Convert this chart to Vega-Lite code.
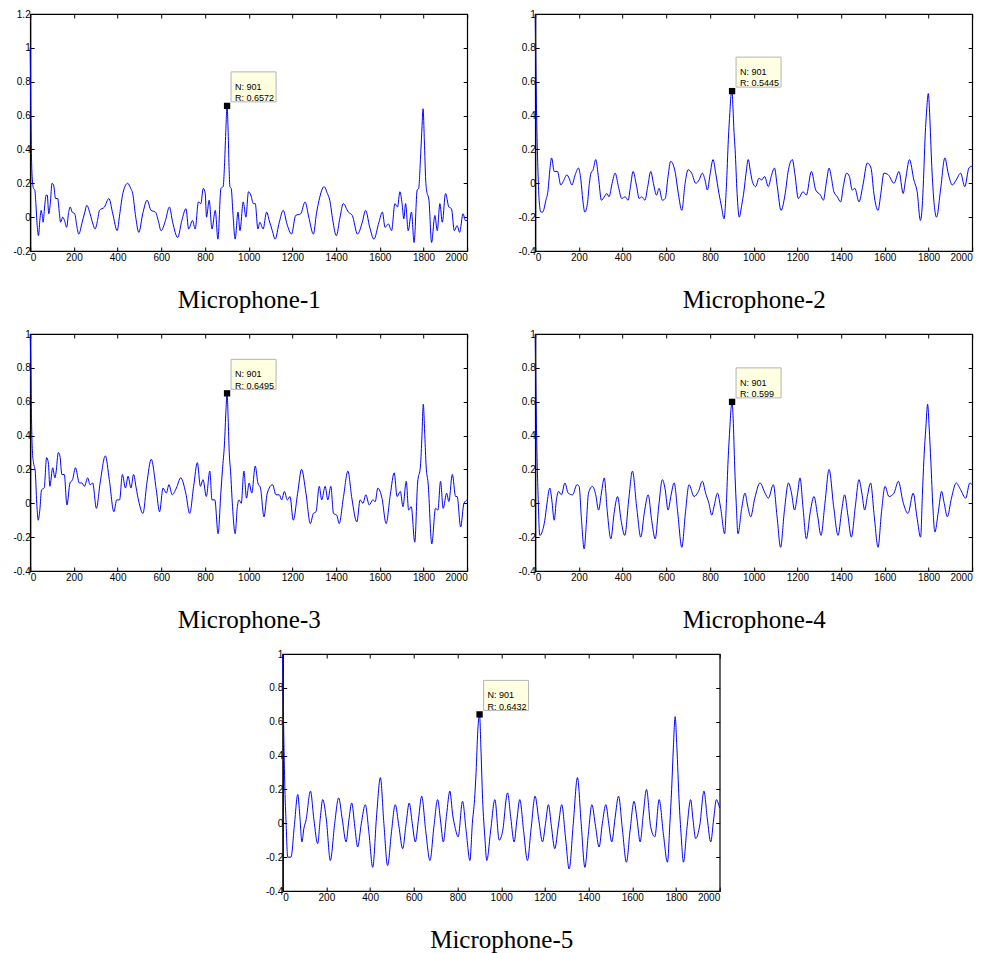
{
"$schema": "https://vega.github.io/schema/vega-lite/v6.json",
"background": "white",
"padding": {"left": 12, "top": 8, "right": 5, "bottom": 5},
"config": {
  "view": {"stroke": "#000", "strokeWidth": 1.2},
  "axis": {"grid": false, "labelFont": "Liberation Sans", "labelFontSize": 10, "labelColor": "#000", "tickColor": "#000", "domainColor": "#000", "domainWidth": 1.2, "tickWidth": 1, "tickSize": -4}
},
"datasets": {
"s1": [{"n":0,"r":1.0},{"n":3,"r":0.6},{"n":6,"r":0.35},{"n":10,"r":0.22},{"n":15,"r":0.17},{"n":21,"r":0.16},{"n":26,"r":0.08},{"n":32,"r":-0.05},{"n":38,"r":-0.11},{"n":44,"r":-0.02},{"n":50,"r":0.04},{"n":55,"r":0.01},{"n":59,"r":-0.03},{"n":66,"r":0.06},{"n":73,"r":0.13},{"n":78,"r":0.13},{"n":85,"r":0.02},{"n":92,"r":0.08},{"n":100,"r":0.2},{"n":107,"r":0.19},{"n":116,"r":0.11},{"n":126,"r":0.11},{"n":133,"r":0.03},{"n":139,"r":-0.03},{"n":149,"r":0.0},{"n":157,"r":-0.02},{"n":167,"r":-0.06},{"n":175,"r":0.02},{"n":183,"r":0.06},{"n":192,"r":0.03},{"n":204,"r":0.02},{"n":213,"r":-0.05},{"n":222,"r":-0.1},{"n":238,"r":-0.03},{"n":250,"r":0.03},{"n":259,"r":0.07},{"n":274,"r":0.02},{"n":287,"r":-0.04},{"n":297,"r":-0.07},{"n":308,"r":-0.02},{"n":317,"r":0.04},{"n":340,"r":0.06},{"n":360,"r":0.11},{"n":378,"r":0.02},{"n":398,"r":-0.08},{"n":410,"r":0.02},{"n":424,"r":0.14},{"n":446,"r":0.2},{"n":460,"r":0.17},{"n":469,"r":0.14},{"n":483,"r":0.0},{"n":497,"r":-0.09},{"n":515,"r":0.02},{"n":535,"r":0.1},{"n":553,"r":0.04},{"n":573,"r":0.03},{"n":586,"r":-0.02},{"n":599,"r":-0.08},{"n":619,"r":-0.02},{"n":637,"r":0.06},{"n":652,"r":-0.03},{"n":675,"r":-0.12},{"n":694,"r":-0.02},{"n":713,"r":0.05},{"n":725,"r":-0.07},{"n":743,"r":-0.02},{"n":755,"r":-0.07},{"n":770,"r":0.09},{"n":781,"r":0.08},{"n":792,"r":0.17},{"n":801,"r":0.14},{"n":807,"r":0.0},{"n":819,"r":0.1},{"n":832,"r":-0.07},{"n":847,"r":0.04},{"n":859,"r":-0.13},{"n":873,"r":0.17},{"n":883,"r":0.18},{"n":889,"r":0.3},{"n":895,"r":0.5},{"n":901,"r":0.6572},{"n":906,"r":0.5},{"n":910,"r":0.3},{"n":914,"r":0.18},{"n":920,"r":0.17},{"n":928,"r":0.02},{"n":938,"r":-0.13},{"n":951,"r":0.03},{"n":960,"r":-0.08},{"n":975,"r":0.09},{"n":987,"r":0.0},{"n":999,"r":0.15},{"n":1010,"r":0.13},{"n":1021,"r":0.08},{"n":1030,"r":0.08},{"n":1042,"r":-0.07},{"n":1051,"r":-0.03},{"n":1066,"r":-0.07},{"n":1082,"r":0.03},{"n":1094,"r":-0.02},{"n":1108,"r":-0.08},{"n":1121,"r":-0.13},{"n":1140,"r":-0.03},{"n":1158,"r":0.04},{"n":1175,"r":-0.04},{"n":1196,"r":-0.1},{"n":1215,"r":0.01},{"n":1238,"r":0.02},{"n":1258,"r":0.09},{"n":1275,"r":0.0},{"n":1296,"r":-0.1},{"n":1310,"r":0.02},{"n":1322,"r":0.1},{"n":1345,"r":0.18},{"n":1360,"r":0.14},{"n":1371,"r":0.1},{"n":1385,"r":-0.02},{"n":1401,"r":-0.11},{"n":1418,"r":0.0},{"n":1433,"r":0.08},{"n":1456,"r":0.03},{"n":1474,"r":0.01},{"n":1498,"r":-0.1},{"n":1520,"r":-0.03},{"n":1535,"r":0.04},{"n":1554,"r":-0.06},{"n":1573,"r":-0.13},{"n":1596,"r":-0.03},{"n":1612,"r":0.03},{"n":1624,"r":-0.06},{"n":1639,"r":-0.04},{"n":1654,"r":-0.08},{"n":1669,"r":0.08},{"n":1681,"r":0.06},{"n":1692,"r":0.15},{"n":1702,"r":0.08},{"n":1710,"r":-0.01},{"n":1718,"r":0.08},{"n":1730,"r":-0.08},{"n":1745,"r":0.03},{"n":1757,"r":-0.15},{"n":1771,"r":0.16},{"n":1778,"r":0.17},{"n":1786,"r":0.34},{"n":1792,"r":0.5},{"n":1798,"r":0.64},{"n":1804,"r":0.45},{"n":1810,"r":0.22},{"n":1814,"r":0.16},{"n":1825,"r":0.1},{"n":1837,"r":-0.15},{"n":1852,"r":0.01},{"n":1863,"r":-0.08},{"n":1875,"r":0.08},{"n":1886,"r":-0.03},{"n":1901,"r":0.14},{"n":1916,"r":0.06},{"n":1928,"r":0.05},{"n":1941,"r":-0.08},{"n":1954,"r":-0.05},{"n":1965,"r":-0.09},{"n":1981,"r":0.02},{"n":1992,"r":-0.02},{"n":2000,"r":-0.02}],
"s2": [{"n":0,"r":1.0},{"n":4,"r":0.6},{"n":8,"r":0.3},{"n":12,"r":0.1},{"n":18,"r":-0.1},{"n":26,"r":-0.17},{"n":34,"r":-0.17},{"n":49,"r":-0.1},{"n":59,"r":-0.04},{"n":67,"r":0.08},{"n":75,"r":0.15},{"n":87,"r":0.07},{"n":102,"r":0.07},{"n":117,"r":-0.01},{"n":128,"r":0.01},{"n":145,"r":0.05},{"n":155,"r":0.03},{"n":168,"r":-0.01},{"n":183,"r":0.05},{"n":198,"r":0.09},{"n":209,"r":0.02},{"n":218,"r":-0.1},{"n":227,"r":-0.17},{"n":239,"r":-0.12},{"n":248,"r":0.0},{"n":255,"r":0.06},{"n":265,"r":0.08},{"n":277,"r":0.14},{"n":290,"r":0.03},{"n":303,"r":-0.1},{"n":316,"r":-0.08},{"n":328,"r":-0.06},{"n":338,"r":-0.08},{"n":352,"r":0.0},{"n":366,"r":0.06},{"n":381,"r":-0.02},{"n":396,"r":-0.09},{"n":412,"r":-0.08},{"n":425,"r":-0.1},{"n":436,"r":-0.02},{"n":448,"r":0.07},{"n":463,"r":-0.01},{"n":476,"r":-0.09},{"n":488,"r":-0.08},{"n":502,"r":-0.1},{"n":515,"r":-0.02},{"n":529,"r":0.07},{"n":541,"r":0.0},{"n":555,"r":-0.07},{"n":567,"r":-0.03},{"n":582,"r":-0.1},{"n":595,"r":-0.09},{"n":608,"r":0.04},{"n":620,"r":0.13},{"n":640,"r":0.07},{"n":655,"r":-0.06},{"n":671,"r":-0.16},{"n":686,"r":0.0},{"n":700,"r":0.08},{"n":716,"r":0.06},{"n":735,"r":0.0},{"n":750,"r":0.02},{"n":765,"r":0.06},{"n":777,"r":0.02},{"n":788,"r":-0.04},{"n":800,"r":0.05},{"n":814,"r":0.14},{"n":826,"r":0.06},{"n":841,"r":-0.06},{"n":853,"r":-0.14},{"n":864,"r":-0.21},{"n":875,"r":-0.02},{"n":884,"r":0.26},{"n":891,"r":0.42},{"n":897,"r":0.53},{"n":901,"r":0.5445},{"n":905,"r":0.45},{"n":910,"r":0.3},{"n":915,"r":0.2},{"n":924,"r":-0.06},{"n":934,"r":-0.2},{"n":945,"r":-0.13},{"n":956,"r":-0.04},{"n":965,"r":0.06},{"n":975,"r":0.14},{"n":985,"r":0.07},{"n":994,"r":0.01},{"n":1009,"r":-0.02},{"n":1024,"r":0.03},{"n":1037,"r":0.02},{"n":1050,"r":0.04},{"n":1067,"r":-0.02},{"n":1080,"r":0.04},{"n":1095,"r":0.09},{"n":1108,"r":-0.02},{"n":1125,"r":-0.16},{"n":1143,"r":-0.07},{"n":1159,"r":0.08},{"n":1177,"r":0.14},{"n":1189,"r":0.05},{"n":1204,"r":-0.09},{"n":1226,"r":-0.05},{"n":1241,"r":-0.07},{"n":1264,"r":0.07},{"n":1284,"r":-0.04},{"n":1306,"r":-0.07},{"n":1319,"r":-0.1},{"n":1332,"r":0.0},{"n":1345,"r":0.09},{"n":1356,"r":0.03},{"n":1367,"r":-0.05},{"n":1383,"r":-0.08},{"n":1398,"r":-0.11},{"n":1410,"r":-0.02},{"n":1425,"r":0.06},{"n":1438,"r":0.04},{"n":1451,"r":-0.04},{"n":1463,"r":-0.03},{"n":1482,"r":-0.11},{"n":1500,"r":-0.01},{"n":1520,"r":0.12},{"n":1537,"r":0.09},{"n":1550,"r":-0.06},{"n":1569,"r":-0.16},{"n":1582,"r":-0.06},{"n":1596,"r":0.06},{"n":1616,"r":0.05},{"n":1642,"r":0.0},{"n":1665,"r":0.07},{"n":1684,"r":-0.06},{"n":1695,"r":0.02},{"n":1713,"r":0.14},{"n":1733,"r":0.02},{"n":1748,"r":-0.05},{"n":1763,"r":-0.22},{"n":1771,"r":-0.14},{"n":1778,"r":0.05},{"n":1784,"r":0.26},{"n":1791,"r":0.42},{"n":1799,"r":0.53},{"n":1805,"r":0.42},{"n":1810,"r":0.26},{"n":1815,"r":0.1},{"n":1820,"r":-0.02},{"n":1837,"r":-0.2},{"n":1855,"r":-0.04},{"n":1875,"r":0.15},{"n":1890,"r":0.06},{"n":1909,"r":-0.01},{"n":1927,"r":0.02},{"n":1947,"r":0.06},{"n":1966,"r":-0.02},{"n":1985,"r":0.09},{"n":1997,"r":0.1},{"n":2000,"r":0.1}],
"s3": [{"n":0,"r":1.0},{"n":3,"r":0.8},{"n":6,"r":0.5},{"n":10,"r":0.31},{"n":15,"r":0.24},{"n":23,"r":0.19},{"n":30,"r":0.0},{"n":37,"r":-0.1},{"n":44,"r":-0.04},{"n":52,"r":0.08},{"n":64,"r":0.09},{"n":75,"r":0.27},{"n":83,"r":0.24},{"n":90,"r":0.1},{"n":103,"r":0.21},{"n":113,"r":0.15},{"n":118,"r":0.18},{"n":129,"r":0.3},{"n":136,"r":0.28},{"n":145,"r":0.17},{"n":156,"r":0.17},{"n":168,"r":-0.01},{"n":182,"r":0.12},{"n":194,"r":0.14},{"n":207,"r":0.21},{"n":225,"r":0.12},{"n":237,"r":0.12},{"n":248,"r":0.1},{"n":263,"r":0.15},{"n":274,"r":0.11},{"n":286,"r":0.12},{"n":303,"r":-0.03},{"n":320,"r":0.12},{"n":344,"r":0.28},{"n":362,"r":0.14},{"n":383,"r":-0.05},{"n":396,"r":0.02},{"n":409,"r":0.02},{"n":422,"r":0.17},{"n":436,"r":0.09},{"n":448,"r":0.16},{"n":461,"r":0.09},{"n":473,"r":0.17},{"n":485,"r":0.09},{"n":497,"r":0.01},{"n":516,"r":-0.06},{"n":534,"r":0.12},{"n":554,"r":0.26},{"n":577,"r":0.08},{"n":592,"r":-0.05},{"n":608,"r":0.09},{"n":623,"r":0.06},{"n":635,"r":0.11},{"n":650,"r":0.05},{"n":669,"r":0.09},{"n":689,"r":0.15},{"n":712,"r":0.06},{"n":730,"r":-0.06},{"n":748,"r":0.1},{"n":765,"r":0.24},{"n":779,"r":0.1},{"n":791,"r":0.14},{"n":806,"r":0.04},{"n":822,"r":0.19},{"n":832,"r":0.02},{"n":845,"r":0.02},{"n":860,"r":-0.18},{"n":872,"r":0.05},{"n":880,"r":0.2},{"n":889,"r":0.35},{"n":896,"r":0.55},{"n":901,"r":0.6495},{"n":906,"r":0.5},{"n":911,"r":0.3},{"n":917,"r":0.19},{"n":926,"r":-0.02},{"n":938,"r":-0.18},{"n":948,"r":-0.02},{"n":956,"r":0.02},{"n":966,"r":0.0},{"n":978,"r":0.19},{"n":990,"r":0.03},{"n":1002,"r":0.12},{"n":1014,"r":0.06},{"n":1030,"r":0.22},{"n":1042,"r":0.12},{"n":1054,"r":0.09},{"n":1070,"r":-0.08},{"n":1085,"r":0.06},{"n":1109,"r":0.11},{"n":1125,"r":0.05},{"n":1140,"r":0.05},{"n":1151,"r":0.02},{"n":1163,"r":0.07},{"n":1177,"r":0.02},{"n":1189,"r":0.04},{"n":1204,"r":-0.1},{"n":1224,"r":0.06},{"n":1242,"r":0.2},{"n":1262,"r":0.06},{"n":1282,"r":-0.12},{"n":1296,"r":-0.06},{"n":1308,"r":-0.05},{"n":1323,"r":0.1},{"n":1334,"r":0.02},{"n":1350,"r":0.1},{"n":1362,"r":0.02},{"n":1376,"r":0.1},{"n":1388,"r":-0.06},{"n":1403,"r":-0.07},{"n":1414,"r":-0.12},{"n":1434,"r":0.04},{"n":1454,"r":0.19},{"n":1472,"r":0.03},{"n":1495,"r":-0.11},{"n":1510,"r":0.02},{"n":1523,"r":0.0},{"n":1536,"r":0.05},{"n":1552,"r":-0.01},{"n":1568,"r":0.02},{"n":1579,"r":0.01},{"n":1591,"r":0.09},{"n":1610,"r":0.03},{"n":1629,"r":-0.12},{"n":1648,"r":0.05},{"n":1666,"r":0.18},{"n":1679,"r":0.04},{"n":1694,"r":0.07},{"n":1706,"r":-0.02},{"n":1721,"r":0.13},{"n":1732,"r":-0.04},{"n":1744,"r":-0.02},{"n":1760,"r":-0.23},{"n":1773,"r":0.12},{"n":1786,"r":0.22},{"n":1793,"r":0.4},{"n":1799,"r":0.585},{"n":1806,"r":0.4},{"n":1812,"r":0.22},{"n":1821,"r":0.12},{"n":1838,"r":-0.24},{"n":1855,"r":-0.03},{"n":1866,"r":-0.04},{"n":1878,"r":0.13},{"n":1890,"r":-0.03},{"n":1906,"r":0.06},{"n":1916,"r":0.01},{"n":1932,"r":0.17},{"n":1947,"r":0.04},{"n":1954,"r":0.04},{"n":1970,"r":-0.14},{"n":1985,"r":0.0},{"n":2000,"r":0.02}],
"s4": [{"n":0,"r":1.0},{"n":4,"r":0.6},{"n":8,"r":0.3},{"n":12,"r":0.1},{"n":21,"r":-0.19},{"n":34,"r":-0.16},{"n":44,"r":-0.1},{"n":53,"r":-0.01},{"n":67,"r":0.09},{"n":76,"r":0.02},{"n":87,"r":-0.1},{"n":97,"r":0.02},{"n":107,"r":0.07},{"n":120,"r":0.05},{"n":136,"r":0.12},{"n":151,"r":0.06},{"n":171,"r":0.05},{"n":191,"r":0.11},{"n":201,"r":0.1},{"n":212,"r":-0.1},{"n":224,"r":-0.27},{"n":234,"r":-0.12},{"n":244,"r":0.06},{"n":262,"r":0.1},{"n":277,"r":0.05},{"n":290,"r":-0.04},{"n":303,"r":0.06},{"n":316,"r":0.15},{"n":330,"r":-0.05},{"n":346,"r":-0.21},{"n":362,"r":-0.05},{"n":377,"r":0.04},{"n":393,"r":-0.1},{"n":410,"r":-0.19},{"n":428,"r":0.02},{"n":445,"r":0.19},{"n":465,"r":-0.03},{"n":483,"r":-0.2},{"n":500,"r":-0.05},{"n":517,"r":0.05},{"n":533,"r":-0.1},{"n":549,"r":-0.21},{"n":566,"r":-0.01},{"n":582,"r":0.14},{"n":595,"r":0.08},{"n":608,"r":-0.04},{"n":622,"r":0.05},{"n":636,"r":0.12},{"n":652,"r":-0.05},{"n":671,"r":-0.26},{"n":688,"r":-0.05},{"n":704,"r":0.11},{"n":727,"r":0.04},{"n":747,"r":0.07},{"n":765,"r":0.13},{"n":780,"r":0.06},{"n":795,"r":0.0},{"n":808,"r":-0.07},{"n":820,"r":-0.01},{"n":834,"r":0.06},{"n":849,"r":-0.03},{"n":867,"r":-0.18},{"n":875,"r":0.0},{"n":883,"r":0.26},{"n":891,"r":0.45},{"n":897,"r":0.57},{"n":901,"r":0.599},{"n":906,"r":0.5},{"n":913,"r":0.22},{"n":920,"r":0.0},{"n":928,"r":-0.18},{"n":945,"r":-0.03},{"n":960,"r":0.06},{"n":973,"r":-0.02},{"n":986,"r":-0.08},{"n":1005,"r":0.03},{"n":1029,"r":0.12},{"n":1052,"r":0.06},{"n":1067,"r":0.03},{"n":1090,"r":0.11},{"n":1107,"r":-0.08},{"n":1123,"r":-0.26},{"n":1140,"r":-0.05},{"n":1159,"r":0.12},{"n":1173,"r":0.06},{"n":1187,"r":-0.04},{"n":1200,"r":0.05},{"n":1212,"r":0.15},{"n":1226,"r":-0.03},{"n":1241,"r":-0.21},{"n":1259,"r":-0.05},{"n":1276,"r":0.04},{"n":1292,"r":-0.07},{"n":1308,"r":-0.19},{"n":1326,"r":0.0},{"n":1345,"r":0.2},{"n":1366,"r":-0.02},{"n":1386,"r":-0.19},{"n":1402,"r":-0.05},{"n":1416,"r":0.05},{"n":1431,"r":-0.07},{"n":1447,"r":-0.2},{"n":1465,"r":-0.02},{"n":1482,"r":0.14},{"n":1495,"r":0.06},{"n":1508,"r":-0.04},{"n":1520,"r":0.04},{"n":1535,"r":0.12},{"n":1552,"r":-0.08},{"n":1569,"r":-0.26},{"n":1585,"r":-0.05},{"n":1601,"r":0.1},{"n":1619,"r":0.04},{"n":1642,"r":0.06},{"n":1662,"r":0.13},{"n":1683,"r":0.01},{"n":1706,"r":-0.06},{"n":1730,"r":0.06},{"n":1747,"r":-0.08},{"n":1764,"r":-0.2},{"n":1772,"r":0.05},{"n":1779,"r":0.26},{"n":1788,"r":0.45},{"n":1796,"r":0.585},{"n":1803,"r":0.45},{"n":1811,"r":0.24},{"n":1820,"r":-0.02},{"n":1829,"r":-0.17},{"n":1845,"r":-0.05},{"n":1860,"r":0.07},{"n":1872,"r":0.0},{"n":1886,"r":-0.08},{"n":1905,"r":0.03},{"n":1927,"r":0.12},{"n":1947,"r":0.08},{"n":1970,"r":0.03},{"n":1989,"r":0.12},{"n":2000,"r":0.11}],
"s5": [{"n":0,"r":1.0},{"n":4,"r":0.6},{"n":10,"r":0.2},{"n":15,"r":0.02},{"n":23,"r":-0.2},{"n":38,"r":-0.2},{"n":53,"r":-0.02},{"n":69,"r":0.17},{"n":78,"r":0.05},{"n":88,"r":-0.11},{"n":97,"r":-0.03},{"n":107,"r":0.02},{"n":127,"r":0.19},{"n":143,"r":0.02},{"n":160,"r":-0.12},{"n":172,"r":0.03},{"n":183,"r":0.14},{"n":200,"r":0.02},{"n":218,"r":-0.22},{"n":238,"r":0.0},{"n":256,"r":0.15},{"n":273,"r":0.02},{"n":290,"r":-0.11},{"n":303,"r":0.02},{"n":316,"r":0.12},{"n":330,"r":-0.02},{"n":343,"r":-0.14},{"n":360,"r":0.0},{"n":378,"r":0.11},{"n":395,"r":-0.06},{"n":412,"r":-0.26},{"n":430,"r":0.05},{"n":447,"r":0.27},{"n":463,"r":0.0},{"n":480,"r":-0.25},{"n":498,"r":-0.05},{"n":515,"r":0.11},{"n":532,"r":-0.02},{"n":549,"r":-0.15},{"n":565,"r":0.0},{"n":579,"r":0.12},{"n":593,"r":0.0},{"n":607,"r":-0.11},{"n":622,"r":0.03},{"n":636,"r":0.16},{"n":655,"r":-0.05},{"n":674,"r":-0.22},{"n":692,"r":-0.02},{"n":709,"r":0.14},{"n":722,"r":0.02},{"n":735,"r":-0.11},{"n":750,"r":0.05},{"n":765,"r":0.19},{"n":778,"r":0.05},{"n":790,"r":-0.03},{"n":803,"r":-0.08},{"n":823,"r":0.13},{"n":840,"r":-0.05},{"n":857,"r":-0.22},{"n":868,"r":0.0},{"n":878,"r":0.14},{"n":885,"r":0.3},{"n":893,"r":0.55},{"n":901,"r":0.6432},{"n":907,"r":0.45},{"n":915,"r":0.14},{"n":925,"r":-0.08},{"n":934,"r":-0.22},{"n":952,"r":-0.04},{"n":971,"r":0.14},{"n":991,"r":-0.1},{"n":1006,"r":-0.05},{"n":1029,"r":0.18},{"n":1044,"r":0.03},{"n":1059,"r":-0.11},{"n":1072,"r":0.02},{"n":1085,"r":0.14},{"n":1103,"r":-0.05},{"n":1120,"r":-0.22},{"n":1137,"r":-0.03},{"n":1155,"r":0.16},{"n":1172,"r":0.02},{"n":1189,"r":-0.11},{"n":1203,"r":0.0},{"n":1216,"r":0.11},{"n":1230,"r":-0.02},{"n":1245,"r":-0.15},{"n":1262,"r":-0.01},{"n":1277,"r":0.11},{"n":1294,"r":-0.08},{"n":1311,"r":-0.27},{"n":1330,"r":0.0},{"n":1349,"r":0.27},{"n":1366,"r":0.0},{"n":1383,"r":-0.26},{"n":1399,"r":-0.06},{"n":1415,"r":0.11},{"n":1432,"r":-0.02},{"n":1448,"r":-0.14},{"n":1463,"r":0.0},{"n":1479,"r":0.11},{"n":1492,"r":0.0},{"n":1506,"r":-0.11},{"n":1521,"r":0.03},{"n":1537,"r":0.16},{"n":1555,"r":-0.04},{"n":1573,"r":-0.23},{"n":1590,"r":-0.04},{"n":1608,"r":0.13},{"n":1622,"r":0.02},{"n":1636,"r":-0.11},{"n":1650,"r":0.05},{"n":1665,"r":0.2},{"n":1684,"r":-0.02},{"n":1703,"r":-0.08},{"n":1723,"r":0.14},{"n":1742,"r":-0.06},{"n":1761,"r":-0.23},{"n":1772,"r":0.0},{"n":1780,"r":0.2},{"n":1788,"r":0.45},{"n":1796,"r":0.63},{"n":1804,"r":0.45},{"n":1814,"r":0.14},{"n":1824,"r":-0.08},{"n":1834,"r":-0.23},{"n":1850,"r":-0.03},{"n":1867,"r":0.14},{"n":1878,"r":0.02},{"n":1890,"r":-0.09},{"n":1909,"r":-0.01},{"n":1928,"r":0.19},{"n":1943,"r":0.03},{"n":1959,"r":-0.11},{"n":1972,"r":0.02},{"n":1985,"r":0.14},{"n":1993,"r":0.12},{"n":2000,"r":0.09}],
"m1": [{"n":901,"r":0.6572,"label":["N: 901","R: 0.6572"]}],
"m2": [{"n":901,"r":0.5445,"label":["N: 901","R: 0.5445"]}],
"m3": [{"n":901,"r":0.6495,"label":["N: 901","R: 0.6495"]}],
"m4": [{"n":901,"r":0.599,"label":["N: 901","R: 0.599"]}],
"m5": [{"n":901,"r":0.6432,"label":["N: 901","R: 0.6432"]}]
},
"vconcat": [
{"hconcat": [
{"width": 437, "height": 237,
 "layer": [
  {"data": {"name": "s1"}, "mark": {"type": "line", "color": "#0000ff", "strokeWidth": 1, "interpolate": "monotone"},
   "encoding": {
    "x": {"field": "n", "type": "quantitative", "scale": {"domain": [0, 2000], "nice": false, "zero": false}, "axis": {"orient": "bottom", "values": [0,200,400,600,800,1000,1200,1400,1600,1800,2000], "format": "d", "labelPadding": 5, "title": "Microphone-1", "titleFont": "Liberation Serif", "titleFontSize": 25, "titleFontWeight": "normal", "titleColor": "#000", "titleY": 56, "titleBaseline": "alphabetic"}},
    "y": {"field": "r", "type": "quantitative", "scale": {"domain": [-0.2, 1.2], "nice": false, "zero": false}, "axis": {"orient": "left", "values": [-0.2,0,0.2,0.4,0.6,0.8,1,1.2], "labelExpr": "'' + datum.value", "labelPadding": 4, "title": null}}}},
  {"data": {"name": "m1"}, "mark": {"type": "square", "size": 40, "color": "#000", "filled": true, "opacity": 1},
   "encoding": {
    "x": {"field": "n", "type": "quantitative", "scale": {"domain": [0, 2000], "nice": false, "zero": false}, "axis": {"orient": "top", "values": [0,200,400,600,800,1000,1200,1400,1600,1800,2000], "labels": false, "domain": false, "title": null}},
    "y": {"field": "r", "type": "quantitative", "scale": {"domain": [-0.2, 1.2], "nice": false, "zero": false}, "axis": {"orient": "right", "values": [-0.2,0,0.2,0.4,0.6,0.8,1,1.2], "labels": false, "domain": false, "title": null}}}},
  {"data": {"name": "m1"}, "mark": {"type": "point", "shape": "M-1.5,-1H1.5V1H-1.5Z", "size": 900, "filled": true, "fill": "#ffffe1", "stroke": "#b4b4b4", "strokeWidth": 1, "opacity": 1, "xOffset": 26.5, "yOffset": -19},
   "encoding": {"x": {"field": "n", "type": "quantitative", "axis": null}, "y": {"field": "r", "type": "quantitative", "axis": null}}},
  {"data": {"name": "m1"}, "mark": {"type": "text", "align": "left", "baseline": "middle", "dx": 8, "dy": -19, "font": "Liberation Sans", "fontSize": 9, "lineHeight": 11.3, "color": "#000"},
   "encoding": {"x": {"field": "n", "type": "quantitative", "axis": null}, "y": {"field": "r", "type": "quantitative", "axis": null}, "text": {"field": "label"}}}
 ],
 "resolve": {"axis": {"x": "independent", "y": "independent"}}},
{"width": 437, "height": 237,
 "layer": [
  {"data": {"name": "s2"}, "mark": {"type": "line", "color": "#0000ff", "strokeWidth": 1, "interpolate": "monotone"},
   "encoding": {
    "x": {"field": "n", "type": "quantitative", "scale": {"domain": [0, 2000], "nice": false, "zero": false}, "axis": {"orient": "bottom", "values": [0,200,400,600,800,1000,1200,1400,1600,1800,2000], "format": "d", "labelPadding": 5, "title": "Microphone-2", "titleFont": "Liberation Serif", "titleFontSize": 25, "titleFontWeight": "normal", "titleColor": "#000", "titleY": 56, "titleBaseline": "alphabetic"}},
    "y": {"field": "r", "type": "quantitative", "scale": {"domain": [-0.4, 1], "nice": false, "zero": false}, "axis": {"orient": "left", "values": [-0.4,-0.2,0,0.2,0.4,0.6,0.8,1], "labelExpr": "'' + datum.value", "labelPadding": 4, "title": null}}}},
  {"data": {"name": "m2"}, "mark": {"type": "square", "size": 40, "color": "#000", "filled": true, "opacity": 1},
   "encoding": {
    "x": {"field": "n", "type": "quantitative", "scale": {"domain": [0, 2000], "nice": false, "zero": false}, "axis": {"orient": "top", "values": [0,200,400,600,800,1000,1200,1400,1600,1800,2000], "labels": false, "domain": false, "title": null}},
    "y": {"field": "r", "type": "quantitative", "scale": {"domain": [-0.4, 1], "nice": false, "zero": false}, "axis": {"orient": "right", "values": [-0.4,-0.2,0,0.2,0.4,0.6,0.8,1], "labels": false, "domain": false, "title": null}}}},
  {"data": {"name": "m2"}, "mark": {"type": "point", "shape": "M-1.5,-1H1.5V1H-1.5Z", "size": 900, "filled": true, "fill": "#ffffe1", "stroke": "#b4b4b4", "strokeWidth": 1, "opacity": 1, "xOffset": 26.5, "yOffset": -19},
   "encoding": {"x": {"field": "n", "type": "quantitative", "axis": null}, "y": {"field": "r", "type": "quantitative", "axis": null}}},
  {"data": {"name": "m2"}, "mark": {"type": "text", "align": "left", "baseline": "middle", "dx": 8, "dy": -19, "font": "Liberation Sans", "fontSize": 9, "lineHeight": 11.3, "color": "#000"},
   "encoding": {"x": {"field": "n", "type": "quantitative", "axis": null}, "y": {"field": "r", "type": "quantitative", "axis": null}, "text": {"field": "label"}}}
 ],
 "resolve": {"axis": {"x": "independent", "y": "independent"}}}
], "spacing": 68, "bounds": "flush"},
{"hconcat": [
{"width": 437, "height": 237,
 "layer": [
  {"data": {"name": "s3"}, "mark": {"type": "line", "color": "#0000ff", "strokeWidth": 1, "interpolate": "monotone"},
   "encoding": {
    "x": {"field": "n", "type": "quantitative", "scale": {"domain": [0, 2000], "nice": false, "zero": false}, "axis": {"orient": "bottom", "values": [0,200,400,600,800,1000,1200,1400,1600,1800,2000], "format": "d", "labelPadding": 5, "title": "Microphone-3", "titleFont": "Liberation Serif", "titleFontSize": 25, "titleFontWeight": "normal", "titleColor": "#000", "titleY": 56, "titleBaseline": "alphabetic"}},
    "y": {"field": "r", "type": "quantitative", "scale": {"domain": [-0.4, 1], "nice": false, "zero": false}, "axis": {"orient": "left", "values": [-0.4,-0.2,0,0.2,0.4,0.6,0.8,1], "labelExpr": "'' + datum.value", "labelPadding": 4, "title": null}}}},
  {"data": {"name": "m3"}, "mark": {"type": "square", "size": 40, "color": "#000", "filled": true, "opacity": 1},
   "encoding": {
    "x": {"field": "n", "type": "quantitative", "scale": {"domain": [0, 2000], "nice": false, "zero": false}, "axis": {"orient": "top", "values": [0,200,400,600,800,1000,1200,1400,1600,1800,2000], "labels": false, "domain": false, "title": null}},
    "y": {"field": "r", "type": "quantitative", "scale": {"domain": [-0.4, 1], "nice": false, "zero": false}, "axis": {"orient": "right", "values": [-0.4,-0.2,0,0.2,0.4,0.6,0.8,1], "labels": false, "domain": false, "title": null}}}},
  {"data": {"name": "m3"}, "mark": {"type": "point", "shape": "M-1.5,-1H1.5V1H-1.5Z", "size": 900, "filled": true, "fill": "#ffffe1", "stroke": "#b4b4b4", "strokeWidth": 1, "opacity": 1, "xOffset": 26.5, "yOffset": -19},
   "encoding": {"x": {"field": "n", "type": "quantitative", "axis": null}, "y": {"field": "r", "type": "quantitative", "axis": null}}},
  {"data": {"name": "m3"}, "mark": {"type": "text", "align": "left", "baseline": "middle", "dx": 8, "dy": -19, "font": "Liberation Sans", "fontSize": 9, "lineHeight": 11.3, "color": "#000"},
   "encoding": {"x": {"field": "n", "type": "quantitative", "axis": null}, "y": {"field": "r", "type": "quantitative", "axis": null}, "text": {"field": "label"}}}
 ],
 "resolve": {"axis": {"x": "independent", "y": "independent"}}},
{"width": 437, "height": 237,
 "layer": [
  {"data": {"name": "s4"}, "mark": {"type": "line", "color": "#0000ff", "strokeWidth": 1, "interpolate": "monotone"},
   "encoding": {
    "x": {"field": "n", "type": "quantitative", "scale": {"domain": [0, 2000], "nice": false, "zero": false}, "axis": {"orient": "bottom", "values": [0,200,400,600,800,1000,1200,1400,1600,1800,2000], "format": "d", "labelPadding": 5, "title": "Microphone-4", "titleFont": "Liberation Serif", "titleFontSize": 25, "titleFontWeight": "normal", "titleColor": "#000", "titleY": 56, "titleBaseline": "alphabetic"}},
    "y": {"field": "r", "type": "quantitative", "scale": {"domain": [-0.4, 1], "nice": false, "zero": false}, "axis": {"orient": "left", "values": [-0.4,-0.2,0,0.2,0.4,0.6,0.8,1], "labelExpr": "'' + datum.value", "labelPadding": 4, "title": null}}}},
  {"data": {"name": "m4"}, "mark": {"type": "square", "size": 40, "color": "#000", "filled": true, "opacity": 1},
   "encoding": {
    "x": {"field": "n", "type": "quantitative", "scale": {"domain": [0, 2000], "nice": false, "zero": false}, "axis": {"orient": "top", "values": [0,200,400,600,800,1000,1200,1400,1600,1800,2000], "labels": false, "domain": false, "title": null}},
    "y": {"field": "r", "type": "quantitative", "scale": {"domain": [-0.4, 1], "nice": false, "zero": false}, "axis": {"orient": "right", "values": [-0.4,-0.2,0,0.2,0.4,0.6,0.8,1], "labels": false, "domain": false, "title": null}}}},
  {"data": {"name": "m4"}, "mark": {"type": "point", "shape": "M-1.5,-1H1.5V1H-1.5Z", "size": 900, "filled": true, "fill": "#ffffe1", "stroke": "#b4b4b4", "strokeWidth": 1, "opacity": 1, "xOffset": 26.5, "yOffset": -19},
   "encoding": {"x": {"field": "n", "type": "quantitative", "axis": null}, "y": {"field": "r", "type": "quantitative", "axis": null}}},
  {"data": {"name": "m4"}, "mark": {"type": "text", "align": "left", "baseline": "middle", "dx": 8, "dy": -19, "font": "Liberation Sans", "fontSize": 9, "lineHeight": 11.3, "color": "#000"},
   "encoding": {"x": {"field": "n", "type": "quantitative", "axis": null}, "y": {"field": "r", "type": "quantitative", "axis": null}, "text": {"field": "label"}}}
 ],
 "resolve": {"axis": {"x": "independent", "y": "independent"}}}
], "spacing": 68, "bounds": "flush"},
{"width": 437, "height": 237,
 "layer": [
  {"data": {"name": "s5"}, "mark": {"type": "line", "color": "#0000ff", "strokeWidth": 1, "interpolate": "monotone"},
   "encoding": {
    "x": {"field": "n", "type": "quantitative", "scale": {"domain": [0, 2000], "nice": false, "zero": false}, "axis": {"orient": "bottom", "values": [0,200,400,600,800,1000,1200,1400,1600,1800,2000], "format": "d", "labelPadding": 5, "title": "Microphone-5", "titleFont": "Liberation Serif", "titleFontSize": 25, "titleFontWeight": "normal", "titleColor": "#000", "titleY": 56, "titleBaseline": "alphabetic"}},
    "y": {"field": "r", "type": "quantitative", "scale": {"domain": [-0.4, 1], "nice": false, "zero": false}, "axis": {"orient": "left", "values": [-0.4,-0.2,0,0.2,0.4,0.6,0.8,1], "labelExpr": "'' + datum.value", "labelPadding": 4, "title": null}}}},
  {"data": {"name": "m5"}, "mark": {"type": "square", "size": 40, "color": "#000", "filled": true, "opacity": 1},
   "encoding": {
    "x": {"field": "n", "type": "quantitative", "scale": {"domain": [0, 2000], "nice": false, "zero": false}, "axis": {"orient": "top", "values": [0,200,400,600,800,1000,1200,1400,1600,1800,2000], "labels": false, "domain": false, "title": null}},
    "y": {"field": "r", "type": "quantitative", "scale": {"domain": [-0.4, 1], "nice": false, "zero": false}, "axis": {"orient": "right", "values": [-0.4,-0.2,0,0.2,0.4,0.6,0.8,1], "labels": false, "domain": false, "title": null}}}},
  {"data": {"name": "m5"}, "mark": {"type": "point", "shape": "M-1.5,-1H1.5V1H-1.5Z", "size": 900, "filled": true, "fill": "#ffffe1", "stroke": "#b4b4b4", "strokeWidth": 1, "opacity": 1, "xOffset": 26.5, "yOffset": -19},
   "encoding": {"x": {"field": "n", "type": "quantitative", "axis": null}, "y": {"field": "r", "type": "quantitative", "axis": null}}},
  {"data": {"name": "m5"}, "mark": {"type": "text", "align": "left", "baseline": "middle", "dx": 8, "dy": -19, "font": "Liberation Sans", "fontSize": 9, "lineHeight": 11.3, "color": "#000"},
   "encoding": {"x": {"field": "n", "type": "quantitative", "axis": null}, "y": {"field": "r", "type": "quantitative", "axis": null}, "text": {"field": "label"}}}
 ],
 "resolve": {"axis": {"x": "independent", "y": "independent"}}}
],
"spacing": 15, "center": true
}
